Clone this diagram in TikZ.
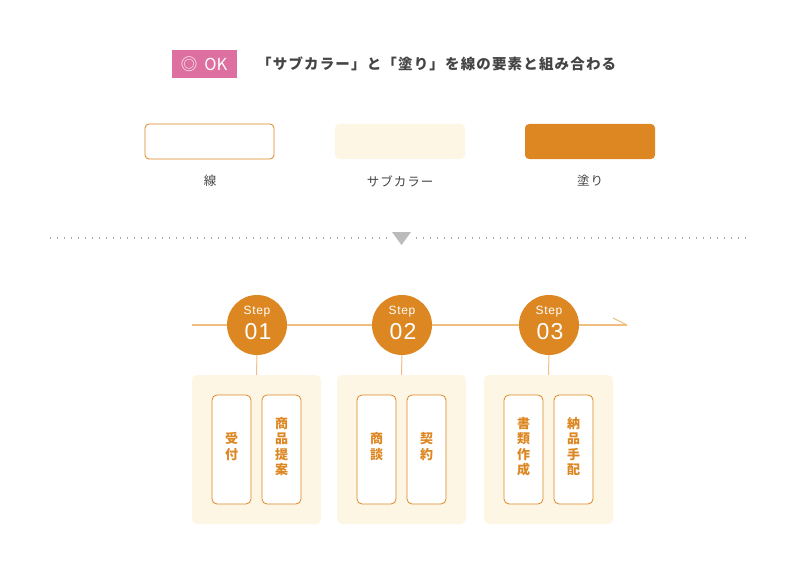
\documentclass[tikz,border=0pt]{standalone}
\usepackage{fontspec}
\setmainfont{Noto Sans CJK JP}
\newfontfamily\jpfont{Noto Sans CJK JP}
\newfontfamily\jpwide[LetterSpace=8]{Noto Sans CJK JP}
\newfontfamily\stepfont[LetterSpace=6]{Liberation Sans}
\begin{document}
\begin{tikzpicture}[x=1pt,y=-1pt,
  sub/.style={fill=subC, draw=none, rounded corners=4pt},
  lineswatch/.style={fill=white, draw=orgC, line width=0.8pt, rounded corners=4pt},
  fillswatch/.style={fill=orgC, draw=none, rounded corners=4pt},
  lbl/.style={text=labC, font=\jpwide\fontsize{12.5}{14}\selectfont, inner sep=0pt},
  stepcirc/.style={circle, fill=orgC, minimum size=60pt, inner sep=0pt},
  tline/.style={draw=lineC, line width=1.2pt},
  card/.style={fill=white, draw=orgC, line width=0.8pt, rounded corners=5pt, minimum width=39pt, minimum height=109pt, inner sep=0pt},
  vtext/.style={text=orgC, font=\jpfont\bfseries\fontsize{13}{15.5}\selectfont, align=center, inner sep=0pt},
  panel/.style={fill=subC, draw=none, rounded corners=5pt, minimum width=129pt, minimum height=149pt, inner sep=0pt}
]
\definecolor{orgC}{HTML}{DD8722}
\definecolor{subC}{HTML}{FEF6E4}
\definecolor{lineC}{HTML}{F0BE80}
\definecolor{pinkC}{HTML}{DE6FA1}
\definecolor{labC}{HTML}{444444}
\definecolor{dotC}{HTML}{AAAAAA}
\definecolor{triC}{HTML}{BBBBBB}
\useasboundingbox[fill=white] (0,0) rectangle (800,575);

% header
\node[fill=pinkC, minimum width=65pt, minimum height=28pt, inner sep=0pt, text=white,
  font=\jpfont\fontsize{16.5}{18}\selectfont] (ok) at (204,64) {◎\hspace{7pt}OK};
\node[anchor=west, inner sep=0pt, text=labC, font=\jpwide\bfseries\fontsize{14.5}{16}\selectfont] (title) at (257,64)
  {「サブカラー」と「塗り」を線の要素と組み合わる};

% swatches
\node[lineswatch, minimum width=129pt, minimum height=35pt, inner sep=0pt] (sw1) at (209.5,141.5) {};
\node[sub, minimum width=130pt, minimum height=35pt, inner sep=0pt] (sw2) at (400,141.5) {};
\node[fillswatch, minimum width=130pt, minimum height=35pt, inner sep=0pt] (sw3) at (590,141.5) {};
\node[lbl] (l1) at (210,181) {線};
\node[lbl] (l2) at (400,181) {サブカラー};
\node[lbl] (l3) at (590,181) {塗り};

% divider
\coordinate (d1) at (50,238);
\coordinate (d2) at (388,238);
\coordinate (d3) at (416,238);
\coordinate (d4) at (748,238);
\draw[dotC, line width=1.3pt, dash pattern=on 1.3pt off 5.7pt] (d1) -- (d2);
\draw[dotC, line width=1.3pt, dash pattern=on 1.3pt off 5.7pt] (d3) -- (d4);
\fill[triC] (392,232) -- (411,232) -- (401.5,245) -- cycle;

% timeline
\coordinate (ts) at (192,325);
\coordinate (te) at (627,325);
\coordinate (th) at (613,318);
\draw[tline] (ts) -- (te);
\draw[tline, line width=1pt] (th) -- (te);

% panels
\node[panel] (p1) at (256.5,449.5) {};
\node[panel] (p2) at (401.5,449.5) {};
\node[panel] (p3) at (548.5,449.5) {};

% step circles
\foreach \n/\x/\num in {1/257/01, 2/402/02, 3/549/03}{
  \node[stepcirc] (c\n) at (\x,325) {};
  \node[text=white, inner sep=0pt, font=\stepfont\fontsize{12}{12}\selectfont] at (\x,311.5) {Step};
  \node[text=white, inner sep=0pt, font=\stepfont\fontsize{23}{24}\selectfont] at (\x+1,332) {\num};
}
\draw[tline, line width=1pt] (c1.south) -- (p1.north);
\draw[tline, line width=1pt] (c2.south) -- (p2.north);
\draw[tline, line width=1pt] (c3.south) -- (p3.north);

% cards
\node[card] (k1) at (231.5,449.5) {};
\node[card] (k2) at (281.5,449.5) {};
\node[card] (k3) at (376.5,449.5) {};
\node[card] (k4) at (426.5,449.5) {};
\node[card] (k5) at (523.5,449.5) {};
\node[card] (k6) at (573.5,449.5) {};
\node[vtext] at ([yshift=3pt]k1.center) {受\\付};
\node[vtext] at ([yshift=3pt]k2.center) {商\\品\\提\\案};
\node[vtext] at ([yshift=3pt]k3.center) {商\\談};
\node[vtext] at ([yshift=3pt]k4.center) {契\\約};
\node[vtext] at ([yshift=3pt]k5.center) {書\\類\\作\\成};
\node[vtext] at ([yshift=3pt]k6.center) {納\\品\\手\\配};
\end{tikzpicture}
\end{document}
